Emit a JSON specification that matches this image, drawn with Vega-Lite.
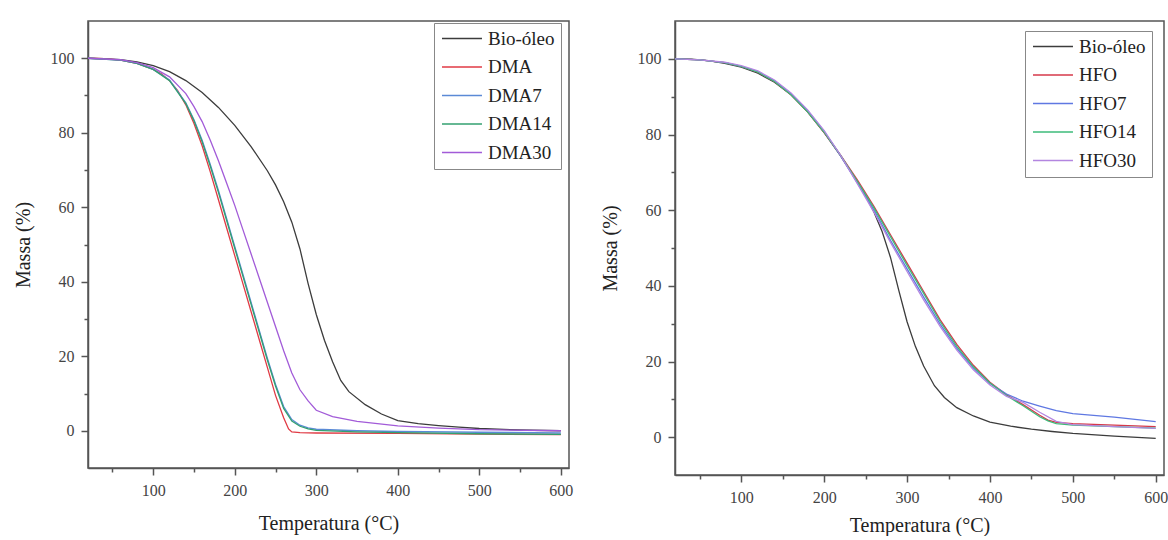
{
  "$schema": "https://vega.github.io/schema/vega-lite/v6.json",
  "padding": {"left": 12, "top": 15, "right": 0, "bottom": 0},
  "spacing": 25,
  "config": {
    "font": "Liberation Serif, Times New Roman, DejaVu Serif, serif",
    "style": {"guide-label": {"font": "Liberation Serif, Times New Roman, DejaVu Serif, serif"}, "guide-title": {"font": "Liberation Serif, Times New Roman, DejaVu Serif, serif"}},
    "view": {"stroke": "#555", "strokeWidth": 1.5},
    "axis": {"domainColor": "#555", "domainWidth": 1.5, "tickColor": "#555", "tickWidth": 1.5, "labelFont": "Liberation Serif, Times New Roman, DejaVu Serif, serif", "labelFontSize": 16, "labelColor": "#444", "titleFont": "Liberation Serif, Times New Roman, DejaVu Serif, serif", "titleFontSize": 20, "titleFontWeight": "normal", "titleColor": "#222", "grid": false, "labelPadding": 7},
    "legend": {"orient": "none", "labelFont": "Liberation Serif, Times New Roman, DejaVu Serif, serif", "labelFontSize": 19, "labelColor": "#222", "symbolType": "M-1,0H4.33", "symbolSize": 225, "symbolStrokeWidth": 1.5, "strokeColor": "#888", "padding": 6, "rowPadding": 8.5, "labelOffset": 29, "title": null, "labelLimit": 200}
  },
  "datasets": {
    "dma": [
      {"s":"Bio-óleo","T":20,"m":100},{"s":"Bio-óleo","T":40,"m":99.9},{"s":"Bio-óleo","T":60,"m":99.6},{"s":"Bio-óleo","T":80,"m":99},{"s":"Bio-óleo","T":100,"m":98},{"s":"Bio-óleo","T":120,"m":96.4},{"s":"Bio-óleo","T":140,"m":94},{"s":"Bio-óleo","T":160,"m":90.8},{"s":"Bio-óleo","T":180,"m":86.8},{"s":"Bio-óleo","T":200,"m":82},{"s":"Bio-óleo","T":220,"m":76.3},{"s":"Bio-óleo","T":240,"m":69.8},{"s":"Bio-óleo","T":250,"m":66},{"s":"Bio-óleo","T":260,"m":61.5},{"s":"Bio-óleo","T":270,"m":56},{"s":"Bio-óleo","T":280,"m":48.8},{"s":"Bio-óleo","T":290,"m":39.5},{"s":"Bio-óleo","T":300,"m":31.2},{"s":"Bio-óleo","T":310,"m":24.3},{"s":"Bio-óleo","T":320,"m":18.5},{"s":"Bio-óleo","T":330,"m":13.5},{"s":"Bio-óleo","T":340,"m":10.5},{"s":"Bio-óleo","T":360,"m":7},{"s":"Bio-óleo","T":380,"m":4.5},{"s":"Bio-óleo","T":400,"m":2.7},{"s":"Bio-óleo","T":425,"m":1.9},{"s":"Bio-óleo","T":450,"m":1.4},{"s":"Bio-óleo","T":475,"m":1},{"s":"Bio-óleo","T":500,"m":0.6},{"s":"Bio-óleo","T":550,"m":0.2},{"s":"Bio-óleo","T":600,"m":0},
      {"s":"DMA","T":20,"m":100},{"s":"DMA","T":40,"m":99.9},{"s":"DMA","T":60,"m":99.5},{"s":"DMA","T":80,"m":98.6},{"s":"DMA","T":100,"m":97},{"s":"DMA","T":110,"m":95.8},{"s":"DMA","T":120,"m":94},{"s":"DMA","T":130,"m":91.3},{"s":"DMA","T":140,"m":87.5},{"s":"DMA","T":150,"m":82.5},{"s":"DMA","T":160,"m":76.5},{"s":"DMA","T":170,"m":69.5},{"s":"DMA","T":180,"m":62},{"s":"DMA","T":190,"m":54.5},{"s":"DMA","T":200,"m":47},{"s":"DMA","T":210,"m":39.5},{"s":"DMA","T":220,"m":32},{"s":"DMA","T":230,"m":24.5},{"s":"DMA","T":240,"m":17},{"s":"DMA","T":250,"m":9.5},{"s":"DMA","T":260,"m":3.5},{"s":"DMA","T":266,"m":0.5},{"s":"DMA","T":270,"m":-0.3},{"s":"DMA","T":280,"m":-0.5},{"s":"DMA","T":300,"m":-0.6},{"s":"DMA","T":400,"m":-0.7},{"s":"DMA","T":500,"m":-0.9},{"s":"DMA","T":600,"m":-1},
      {"s":"DMA7","T":20,"m":100},{"s":"DMA7","T":60,"m":99.5},{"s":"DMA7","T":80,"m":98.6},{"s":"DMA7","T":100,"m":97},{"s":"DMA7","T":120,"m":94.2},{"s":"DMA7","T":140,"m":88},{"s":"DMA7","T":150,"m":83.5},{"s":"DMA7","T":160,"m":78},{"s":"DMA7","T":170,"m":71.5},{"s":"DMA7","T":180,"m":64.5},{"s":"DMA7","T":190,"m":57},{"s":"DMA7","T":200,"m":49.5},{"s":"DMA7","T":210,"m":42},{"s":"DMA7","T":220,"m":34.5},{"s":"DMA7","T":230,"m":27},{"s":"DMA7","T":240,"m":19.5},{"s":"DMA7","T":250,"m":12.5},{"s":"DMA7","T":260,"m":6.5},{"s":"DMA7","T":270,"m":3},{"s":"DMA7","T":280,"m":1.5},{"s":"DMA7","T":290,"m":0.8},{"s":"DMA7","T":300,"m":0.4},{"s":"DMA7","T":350,"m":0},{"s":"DMA7","T":400,"m":-0.2},{"s":"DMA7","T":500,"m":-0.4},{"s":"DMA7","T":600,"m":-0.6},
      {"s":"DMA14","T":20,"m":100},{"s":"DMA14","T":60,"m":99.5},{"s":"DMA14","T":80,"m":98.6},{"s":"DMA14","T":100,"m":97},{"s":"DMA14","T":120,"m":94},{"s":"DMA14","T":140,"m":87.8},{"s":"DMA14","T":150,"m":83.2},{"s":"DMA14","T":160,"m":77.6},{"s":"DMA14","T":170,"m":71},{"s":"DMA14","T":180,"m":64},{"s":"DMA14","T":190,"m":56.5},{"s":"DMA14","T":200,"m":49},{"s":"DMA14","T":210,"m":41.5},{"s":"DMA14","T":220,"m":34},{"s":"DMA14","T":230,"m":26.5},{"s":"DMA14","T":240,"m":19},{"s":"DMA14","T":250,"m":12},{"s":"DMA14","T":260,"m":6},{"s":"DMA14","T":270,"m":2.6},{"s":"DMA14","T":280,"m":1.2},{"s":"DMA14","T":290,"m":0.5},{"s":"DMA14","T":300,"m":0.1},{"s":"DMA14","T":350,"m":-0.3},{"s":"DMA14","T":400,"m":-0.5},{"s":"DMA14","T":500,"m":-0.8},{"s":"DMA14","T":600,"m":-1},
      {"s":"DMA30","T":20,"m":100},{"s":"DMA30","T":60,"m":99.6},{"s":"DMA30","T":80,"m":98.8},{"s":"DMA30","T":100,"m":97.5},{"s":"DMA30","T":120,"m":95},{"s":"DMA30","T":140,"m":90.5},{"s":"DMA30","T":150,"m":87},{"s":"DMA30","T":160,"m":83},{"s":"DMA30","T":170,"m":78},{"s":"DMA30","T":180,"m":72.5},{"s":"DMA30","T":190,"m":66.5},{"s":"DMA30","T":200,"m":60.5},{"s":"DMA30","T":210,"m":54},{"s":"DMA30","T":220,"m":47.5},{"s":"DMA30","T":230,"m":41},{"s":"DMA30","T":240,"m":34.5},{"s":"DMA30","T":250,"m":28},{"s":"DMA30","T":260,"m":21.5},{"s":"DMA30","T":270,"m":15.5},{"s":"DMA30","T":280,"m":11},{"s":"DMA30","T":290,"m":8},{"s":"DMA30","T":300,"m":5.5},{"s":"DMA30","T":320,"m":3.8},{"s":"DMA30","T":350,"m":2.5},{"s":"DMA30","T":400,"m":1.3},{"s":"DMA30","T":450,"m":0.7},{"s":"DMA30","T":500,"m":0.3},{"s":"DMA30","T":600,"m":0}
    ],
    "hfo": [
      {"s":"Bio-óleo","T":20,"m":100},{"s":"Bio-óleo","T":40,"m":99.9},{"s":"Bio-óleo","T":60,"m":99.5},{"s":"Bio-óleo","T":80,"m":98.8},{"s":"Bio-óleo","T":100,"m":97.8},{"s":"Bio-óleo","T":120,"m":96.2},{"s":"Bio-óleo","T":140,"m":93.8},{"s":"Bio-óleo","T":160,"m":90.5},{"s":"Bio-óleo","T":180,"m":86},{"s":"Bio-óleo","T":200,"m":80.5},{"s":"Bio-óleo","T":220,"m":74.3},{"s":"Bio-óleo","T":240,"m":67.5},{"s":"Bio-óleo","T":250,"m":63.8},{"s":"Bio-óleo","T":260,"m":59.5},{"s":"Bio-óleo","T":270,"m":54.3},{"s":"Bio-óleo","T":280,"m":47.5},{"s":"Bio-óleo","T":290,"m":38.8},{"s":"Bio-óleo","T":300,"m":30.5},{"s":"Bio-óleo","T":310,"m":24},{"s":"Bio-óleo","T":320,"m":18.8},{"s":"Bio-óleo","T":333,"m":13.6},{"s":"Bio-óleo","T":345,"m":10.5},{"s":"Bio-óleo","T":360,"m":7.8},{"s":"Bio-óleo","T":380,"m":5.6},{"s":"Bio-óleo","T":400,"m":4},{"s":"Bio-óleo","T":425,"m":2.9},{"s":"Bio-óleo","T":450,"m":2.1},{"s":"Bio-óleo","T":475,"m":1.5},{"s":"Bio-óleo","T":500,"m":1},{"s":"Bio-óleo","T":550,"m":0.3},{"s":"Bio-óleo","T":600,"m":-0.3},
      {"s":"HFO","T":20,"m":100},{"s":"HFO","T":50,"m":99.7},{"s":"HFO","T":80,"m":99},{"s":"HFO","T":100,"m":98},{"s":"HFO","T":120,"m":96.5},{"s":"HFO","T":140,"m":94},{"s":"HFO","T":160,"m":90.5},{"s":"HFO","T":180,"m":86},{"s":"HFO","T":200,"m":80.5},{"s":"HFO","T":220,"m":74.5},{"s":"HFO","T":240,"m":68},{"s":"HFO","T":260,"m":61},{"s":"HFO","T":280,"m":53.5},{"s":"HFO","T":300,"m":46},{"s":"HFO","T":320,"m":38.5},{"s":"HFO","T":340,"m":31},{"s":"HFO","T":360,"m":24.5},{"s":"HFO","T":380,"m":19},{"s":"HFO","T":400,"m":14.5},{"s":"HFO","T":420,"m":11.2},{"s":"HFO","T":440,"m":8.6},{"s":"HFO","T":460,"m":5.8},{"s":"HFO","T":470,"m":4.5},{"s":"HFO","T":480,"m":3.9},{"s":"HFO","T":500,"m":3.6},{"s":"HFO","T":550,"m":3.2},{"s":"HFO","T":600,"m":2.8},
      {"s":"HFO7","T":20,"m":100},{"s":"HFO7","T":50,"m":99.7},{"s":"HFO7","T":80,"m":99},{"s":"HFO7","T":100,"m":98},{"s":"HFO7","T":120,"m":96.6},{"s":"HFO7","T":140,"m":94.2},{"s":"HFO7","T":160,"m":90.8},{"s":"HFO7","T":180,"m":86.3},{"s":"HFO7","T":200,"m":80.8},{"s":"HFO7","T":220,"m":74.3},{"s":"HFO7","T":240,"m":67.2},{"s":"HFO7","T":260,"m":60},{"s":"HFO7","T":280,"m":52},{"s":"HFO7","T":300,"m":44.5},{"s":"HFO7","T":320,"m":37},{"s":"HFO7","T":340,"m":29.8},{"s":"HFO7","T":360,"m":23.5},{"s":"HFO7","T":380,"m":18.3},{"s":"HFO7","T":400,"m":14.2},{"s":"HFO7","T":420,"m":11.4},{"s":"HFO7","T":440,"m":9.5},{"s":"HFO7","T":460,"m":8.2},{"s":"HFO7","T":480,"m":7},{"s":"HFO7","T":500,"m":6.2},{"s":"HFO7","T":550,"m":5.3},{"s":"HFO7","T":600,"m":4.1},
      {"s":"HFO14","T":20,"m":100},{"s":"HFO14","T":50,"m":99.7},{"s":"HFO14","T":80,"m":99},{"s":"HFO14","T":100,"m":98},{"s":"HFO14","T":120,"m":96.5},{"s":"HFO14","T":140,"m":94},{"s":"HFO14","T":160,"m":90.5},{"s":"HFO14","T":180,"m":86},{"s":"HFO14","T":200,"m":80.6},{"s":"HFO14","T":220,"m":74.4},{"s":"HFO14","T":240,"m":67.6},{"s":"HFO14","T":260,"m":60.6},{"s":"HFO14","T":280,"m":53},{"s":"HFO14","T":300,"m":45.4},{"s":"HFO14","T":320,"m":38},{"s":"HFO14","T":340,"m":30.5},{"s":"HFO14","T":360,"m":24},{"s":"HFO14","T":380,"m":18.6},{"s":"HFO14","T":400,"m":14.3},{"s":"HFO14","T":420,"m":11},{"s":"HFO14","T":440,"m":8.3},{"s":"HFO14","T":460,"m":5.4},{"s":"HFO14","T":470,"m":4.3},{"s":"HFO14","T":480,"m":3.6},{"s":"HFO14","T":500,"m":3.2},{"s":"HFO14","T":550,"m":2.8},{"s":"HFO14","T":600,"m":2.4},
      {"s":"HFO30","T":20,"m":100},{"s":"HFO30","T":50,"m":99.7},{"s":"HFO30","T":80,"m":99.1},{"s":"HFO30","T":100,"m":98.2},{"s":"HFO30","T":120,"m":96.8},{"s":"HFO30","T":140,"m":94.4},{"s":"HFO30","T":160,"m":91},{"s":"HFO30","T":180,"m":86.5},{"s":"HFO30","T":200,"m":81},{"s":"HFO30","T":220,"m":74.4},{"s":"HFO30","T":240,"m":67},{"s":"HFO30","T":260,"m":59.5},{"s":"HFO30","T":280,"m":51.5},{"s":"HFO30","T":300,"m":43.8},{"s":"HFO30","T":320,"m":36.3},{"s":"HFO30","T":340,"m":29.2},{"s":"HFO30","T":360,"m":23},{"s":"HFO30","T":380,"m":17.8},{"s":"HFO30","T":400,"m":13.8},{"s":"HFO30","T":420,"m":10.8},{"s":"HFO30","T":440,"m":9.2},{"s":"HFO30","T":460,"m":6.6},{"s":"HFO30","T":480,"m":4.2},{"s":"HFO30","T":500,"m":3.3},{"s":"HFO30","T":550,"m":2.8},{"s":"HFO30","T":600,"m":2.3}
    ]
  },
  "resolve": {"scale": {"color": "independent"}},
  "hconcat": [
    {
      "width": 481, "height": 447,
      "title": {"text": " ", "fontSize": 2, "offset": 3},
      "data": {"name": "dma"},
      "mark": {"type": "line", "strokeWidth": 1.3, "clip": true},
      "encoding": {
        "x": {"field": "T", "type": "quantitative", "scale": {"domain": [20, 610], "nice": false, "zero": false},
          "axis": {"title": "Temperatura (°C)", "values": [50,100,150,200,250,300,350,400,450,500,550,600], "labelExpr": "datum.value % 100 === 0 ? datum.label : ''", "tickSize": {"condition": {"test": "datum.value % 100 === 0", "value": 7}, "value": 4}, "titlePadding": 15,
            "encode": {"labels": {"update": {"font": {"value": "Liberation Serif, Times New Roman, DejaVu Serif, serif"}}}}}},
        "y": {"field": "m", "type": "quantitative", "scale": {"domain": [-10, 110], "nice": false, "zero": false},
          "axis": {"title": "Massa (%)", "values": [0,10,20,30,40,50,60,70,80,90,100], "labelExpr": "datum.value % 20 === 0 ? datum.label : ''", "tickSize": {"condition": {"test": "datum.value % 20 === 0", "value": 7}, "value": 4}, "titlePadding": 17,
            "encode": {"labels": {"update": {"font": {"value": "Liberation Serif, Times New Roman, DejaVu Serif, serif"}}}}}},
        "color": {"field": "s", "type": "nominal",
          "scale": {"domain": ["Bio-óleo", "DMA", "DMA7", "DMA14", "DMA30"], "range": ["#3c3c3c", "#e03a44", "#5b8ad6", "#33a070", "#a25bd8"]},
          "legend": {"legendX": 346, "legendY": 2}},
        "order": {"field": "T", "type": "quantitative"}
      }
    },
    {
      "width": 489, "height": 454,
      "data": {"name": "hfo"},
      "mark": {"type": "line", "strokeWidth": 1.3, "clip": true},
      "encoding": {
        "x": {"field": "T", "type": "quantitative", "scale": {"domain": [20, 610], "nice": false, "zero": false},
          "axis": {"title": "Temperatura (°C)", "values": [50,100,150,200,250,300,350,400,450,500,550,600], "labelExpr": "datum.value % 100 === 0 ? datum.label : ''", "tickSize": {"condition": {"test": "datum.value % 100 === 0", "value": 7}, "value": 4}, "titlePadding": 10,
            "encode": {"labels": {"update": {"font": {"value": "Liberation Serif, Times New Roman, DejaVu Serif, serif"}}}}}},
        "y": {"field": "m", "type": "quantitative", "scale": {"domain": [-10, 110], "nice": false, "zero": false},
          "axis": {"title": "Massa (%)", "values": [0,10,20,30,40,50,60,70,80,90,100], "labelExpr": "datum.value % 20 === 0 ? datum.label : ''", "tickSize": {"condition": {"test": "datum.value % 20 === 0", "value": 7}, "value": 4}, "titlePadding": 17,
            "encode": {"labels": {"update": {"font": {"value": "Liberation Serif, Times New Roman, DejaVu Serif, serif"}}}}}},
        "color": {"field": "s", "type": "nominal",
          "scale": {"domain": ["Bio-óleo", "HFO", "HFO7", "HFO14", "HFO30"], "range": ["#3c3c3c", "#d6384a", "#5f78e2", "#3dbb7a", "#b386e0"]},
          "legend": {"legendX": 350, "legendY": 10}},
        "order": {"field": "T", "type": "quantitative"}
      }
    }
  ]
}
